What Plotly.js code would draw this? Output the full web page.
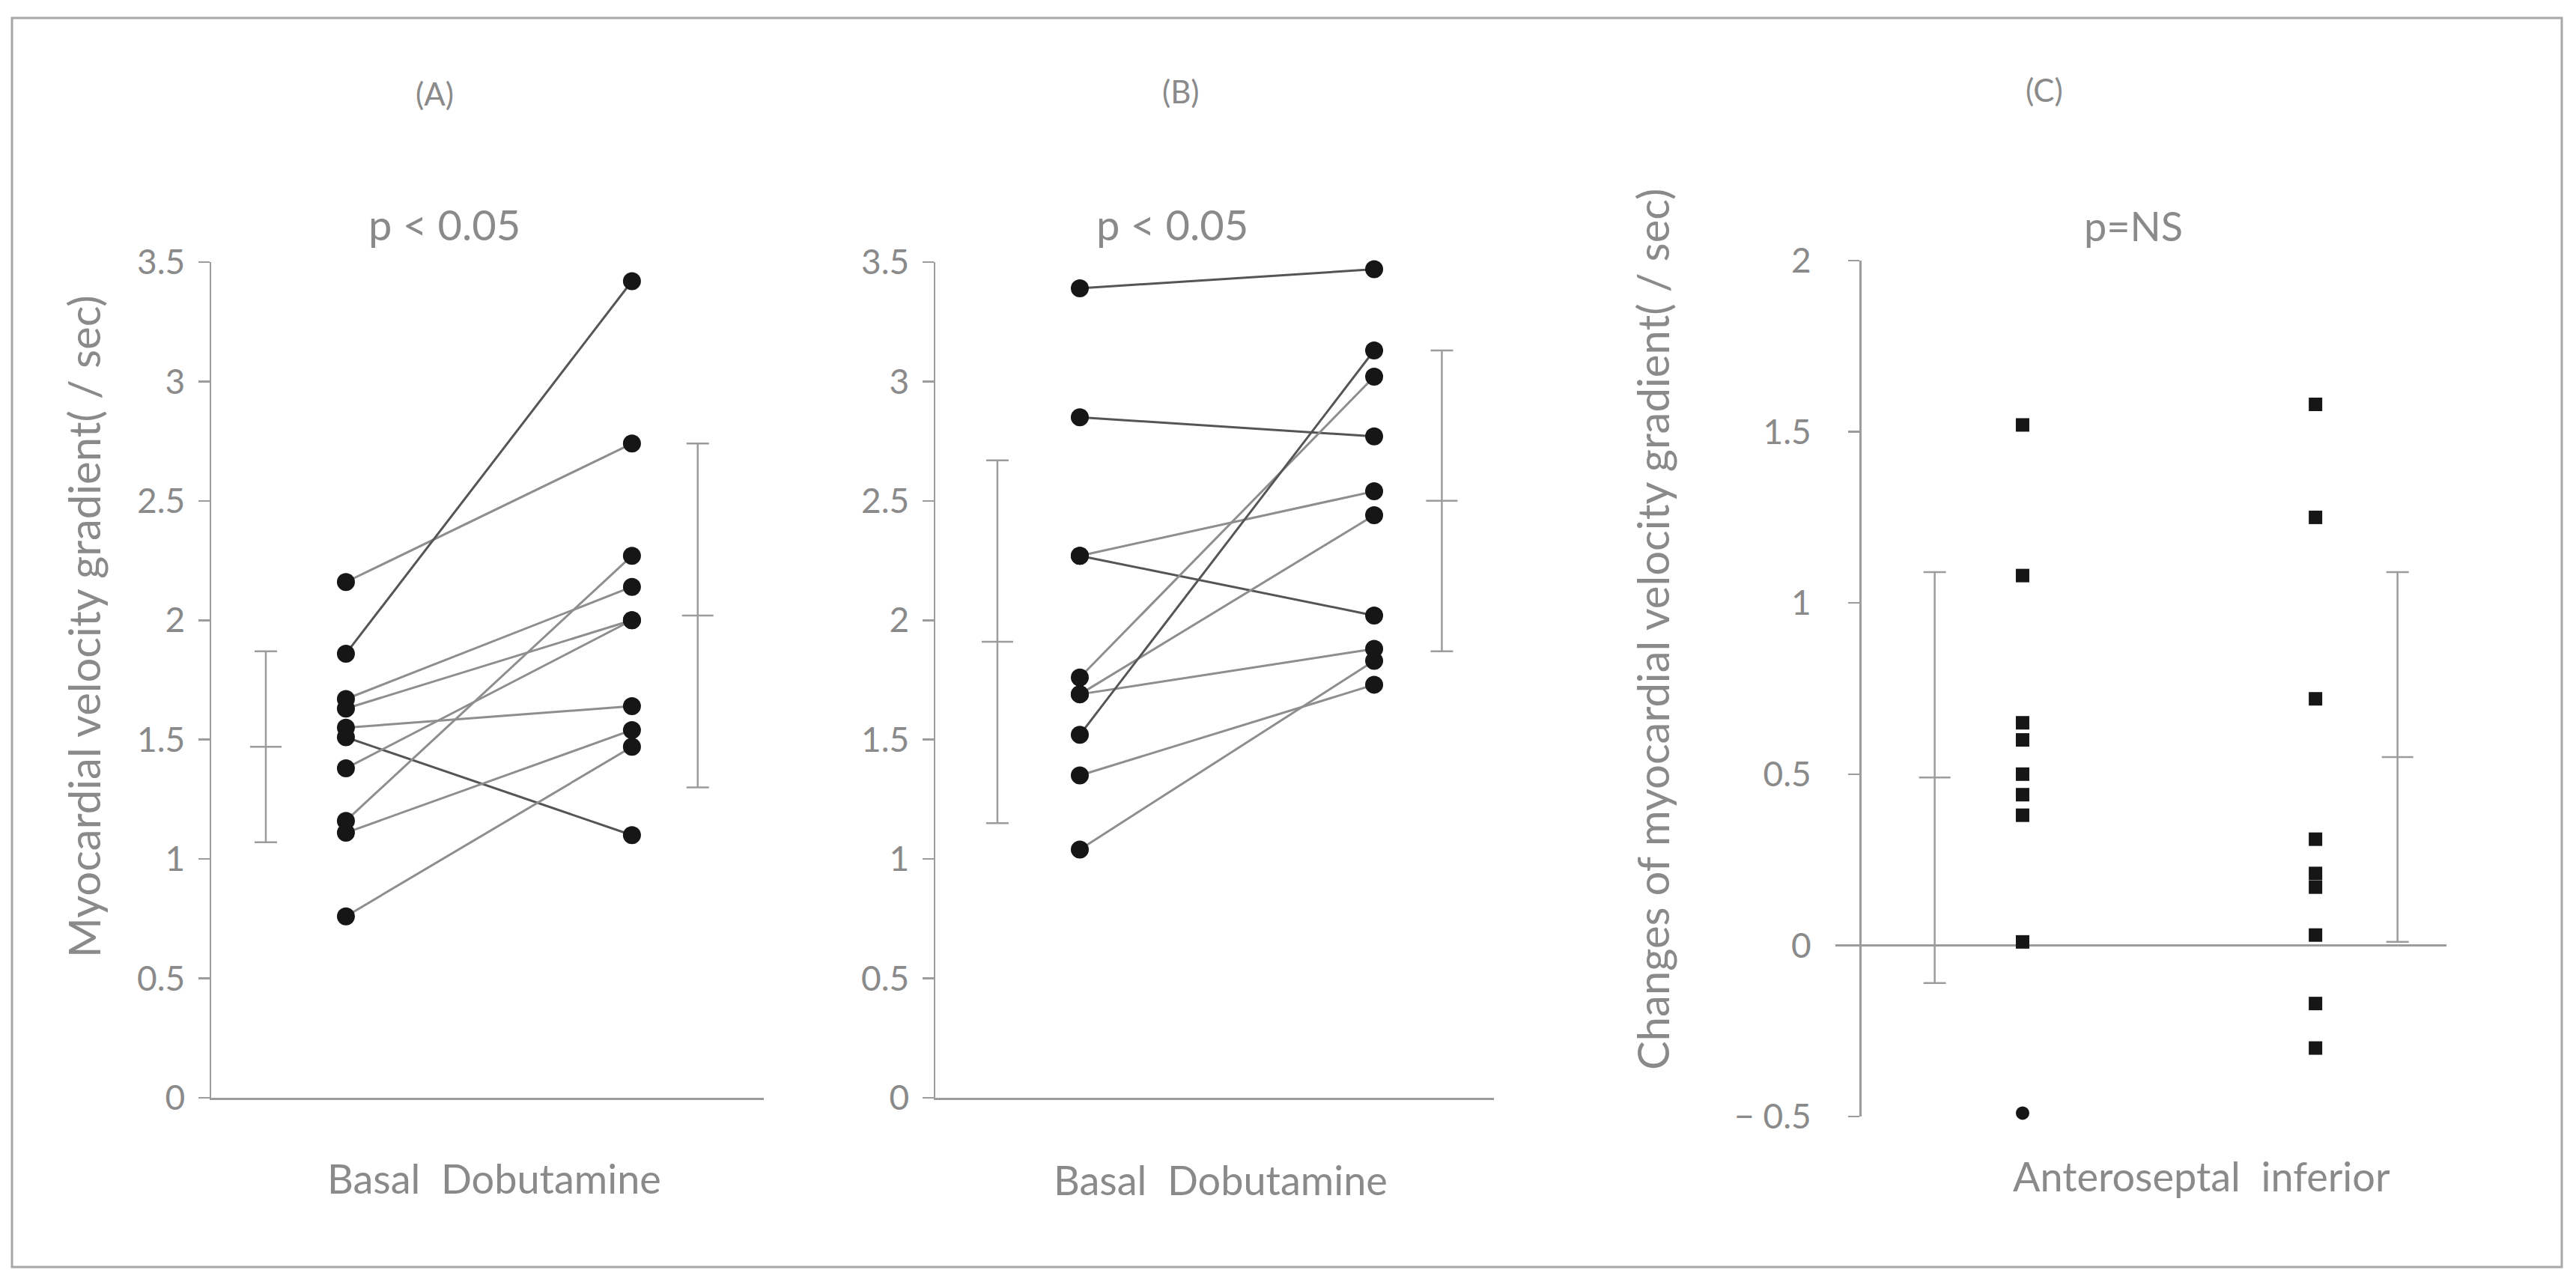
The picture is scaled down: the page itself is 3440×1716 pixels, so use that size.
<!DOCTYPE html>
<html>
<head>
<meta charset="utf-8">
<script src="https://cdn.plot.ly/plotly-3.0.1.min.js"></script>
<style>html,body{margin:0;padding:0;background:#fff;}#chart{width:3440px;height:1716px;}</style>
</head>
<body>
<div id="chart"></div>
<script>
// ---------- DATA ----------
const categoriesAB = ["Basal", "Dobutamine"];
const categoriesC = ["Anteroseptal", "inferior"];

// Panel A: paired values (basal -> dobutamine), /sec
const basalA = [2.16, 1.86, 1.67, 1.63, 1.55, 1.51, 1.38, 1.16, 1.11, 0.76];
const dobA   = [2.74, 3.42, 2.14, 2.00, 1.64, 1.10, 2.00, 2.27, 1.54, 1.47];
const meanA  = [1.47, 2.02];
const sdA    = [0.40, 0.72];

// Panel B
const basalB = [3.39, 2.85, 2.27, 2.27, 1.76, 1.69, 1.69, 1.52, 1.35, 1.04];
const dobB   = [3.47, 2.77, 2.54, 2.02, 3.02, 2.44, 1.88, 3.13, 1.73, 1.83];
const meanB  = [1.91, 2.50];
const sdB    = [0.76, 0.63];

// Panel C: changes of myocardial velocity gradient
const anteroseptal = [1.52, 1.08, 0.65, 0.60, 0.50, 0.44, 0.38, 0.01, -0.49];
const inferior     = [1.58, 1.25, 0.72, 0.31, 0.21, 0.17, 0.03, -0.17, -0.30];
const meanC  = [0.49, 0.55];
const sdC    = [0.60, 0.54];

const tickValsAB = [0, 0.5, 1, 1.5, 2, 2.5, 3, 3.5];
const tickTextAB = ["0", "0.5", "1", "1.5", "2", "2.5", "3", "3.5"];
const tickValsC  = [-0.5, 0, 0.5, 1, 1.5, 2];
const tickTextC  = ["\u2212 0.5", "0", "0.5", "1", "1.5", "2"];

// ---------- STYLE / LAYOUT ----------
const W = 3440, H = 1716;
const px = x => x / W;
const py = y => 1 - y / H;
const FONT = "Lato, 'Open Sans', sans-serif";
const TXT = "#8a8a8a";
const AX = "#9c9c9c";
const DOT = "#161616";
const LINE_LIGHT = "#8e8e8e";
const LINE_DARK = "#555555";
const darkA = [false, true, false, false, false, true, false, false, false, false];
const darkB = [true, true, false, true, false, false, false, true, false, false];
const antSymbols = anteroseptal.map((v, i) => i === anteroseptal.length - 1 ? "circle" : "square");
const errXAB = [0.72, 2.23];
const errXC = [0.70, 2.28];

const traces = [];
function pairTraces(basal, dob, dark, xa, ya) {
  basal.forEach((b, i) => {
    traces.push({
      x: [1, 2], y: [b, dob[i]], mode: "lines+markers", xaxis: xa, yaxis: ya,
      line: {color: dark[i] ? LINE_DARK : LINE_LIGHT, width: 3},
      marker: {color: DOT, size: 24},
      cliponaxis: false, hoverinfo: "skip", showlegend: false
    });
  });
}
function errTrace(xs, mean, sd, xa, ya) {
  traces.push({
    x: xs, y: mean, mode: "markers", xaxis: xa, yaxis: ya,
    marker: {symbol: "line-ew", size: 30, color: AX, line: {color: AX, width: 2.5}},
    error_y: {type: "data", array: sd, visible: true, color: AX, thickness: 2.5, width: 15},
    cliponaxis: false, hoverinfo: "skip", showlegend: false
  });
}
pairTraces(basalA, dobA, darkA, "x", "y");
errTrace(errXAB, meanA, sdA, "x", "y");
pairTraces(basalB, dobB, darkB, "x2", "y2");
errTrace(errXAB, meanB, sdB, "x2", "y2");
errTrace(errXC, meanC, sdC, "x3", "y3");
traces.push({
  x: anteroseptal.map(() => 1), y: anteroseptal, mode: "markers", xaxis: "x3", yaxis: "y3",
  marker: {symbol: antSymbols, size: 18, color: DOT}, cliponaxis: false, hoverinfo: "skip", showlegend: false
});
traces.push({
  x: inferior.map(() => 2), y: inferior, mode: "markers", xaxis: "x3", yaxis: "y3",
  marker: {symbol: "square", size: 18, color: DOT}, cliponaxis: false, hoverinfo: "skip", showlegend: false
});

function xAxis(d0, d1, range, anchor, showline) {
  return {domain: [px(d0), px(d1)], range: range, anchor: anchor, showline: showline,
    linecolor: AX, linewidth: 2.5, ticks: "", showticklabels: false, showgrid: false,
    zeroline: false, fixedrange: true};
}
function yAxis(top, bottom, range, anchor, vals, text, extra) {
  return Object.assign({domain: [py(bottom), py(top)], range: range, anchor: anchor,
    showline: true, linecolor: AX, linewidth: 2.5, ticks: "outside", ticklen: 15,
    tickwidth: 2.5, tickcolor: AX, tickvals: vals, ticktext: text,
    tickfont: {family: FONT, size: 46, color: TXT}, showgrid: false, zeroline: false,
    fixedrange: true}, extra || {});
}
function tickOverlay(over, anchor, range, vals, extra) {
  return Object.assign({overlaying: over, anchor: anchor, range: range, ticks: "inside",
    ticklen: 13, tickwidth: 2.5, tickcolor: AX, tickvals: vals, showticklabels: false,
    showline: false, showgrid: false, zeroline: false, fixedrange: true}, extra || {});
}

const layout = {
  width: W, height: H, margin: {l: 0, r: 0, t: 0, b: 0},
  paper_bgcolor: "#fff", plot_bgcolor: "rgba(0,0,0,0)", showlegend: false,
  xaxis:  xAxis(282, 1020, [0.529, 2.461], "y", true),
  yaxis:  yAxis(350, 1466, [0, 3.5], "x", tickValsAB, tickTextAB, {ticklabelstandoff: 8}),
  xaxis2: xAxis(1249, 1995, [0.509, 2.407], "y2", true),
  yaxis2: yAxis(350, 1466, [0, 3.5], "x2", tickValsAB, tickTextAB, {ticklabelstandoff: 8}),
  xaxis3: xAxis(2451, 3267, [0.361, 2.447], "y3", false),
  yaxis3: yAxis(348, 1491, [-0.5, 2], "free", tickValsC, tickTextC,
    {position: px(2484), zeroline: true, zerolinecolor: AX, zerolinewidth: 2.5, ticklabelstandoff: 40}),
  yaxis4: tickOverlay("y", "x", [0, 3.5], tickValsAB),
  yaxis5: tickOverlay("y2", "x2", [0, 3.5], tickValsAB),
  yaxis6: tickOverlay("y3", "free", [-0.5, 2], tickValsC, {position: px(2484)}),
  shapes: [{type: "rect", xref: "paper", yref: "paper", x0: px(16), x1: px(3421),
    y0: py(1692), y1: py(24), line: {color: "#a8a8a8", width: 3}}],
  annotations: []
};

function note(text, x, y, size, angle) {
  layout.annotations.push({text: text, xref: "paper", yref: "paper", x: px(x), y: py(y),
    xanchor: "center", yanchor: "middle", showarrow: false, textangle: angle || 0,
    font: {family: FONT, size: size, color: TXT}});
}
note("(A)", 580, 125, 42);
note("(B)", 1577, 122, 42);
note("(C)", 2730, 120, 42);
note("p &lt; 0.05", 593, 300, 56);
note("p &lt; 0.05", 1565, 300, 56);
note("p=NS", 2849, 302, 54);
note(categoriesAB[0] + "  " + categoriesAB[1], 660, 1573, 54);
note(categoriesAB[0] + "  " + categoriesAB[1], 1630, 1575, 54);
note(categoriesC[0] + "  " + categoriesC[1], 2940, 1570, 54);
note("Myocardial velocity gradient( / sec)", 112, 837, 58, -90);
note("Changes of myocardial velocity gradient( / sec)", 2206, 840, 58, -90);

Plotly.newPlot("chart", traces, layout, {staticPlot: true, displayModeBar: false});
</script>
</body>
</html>
